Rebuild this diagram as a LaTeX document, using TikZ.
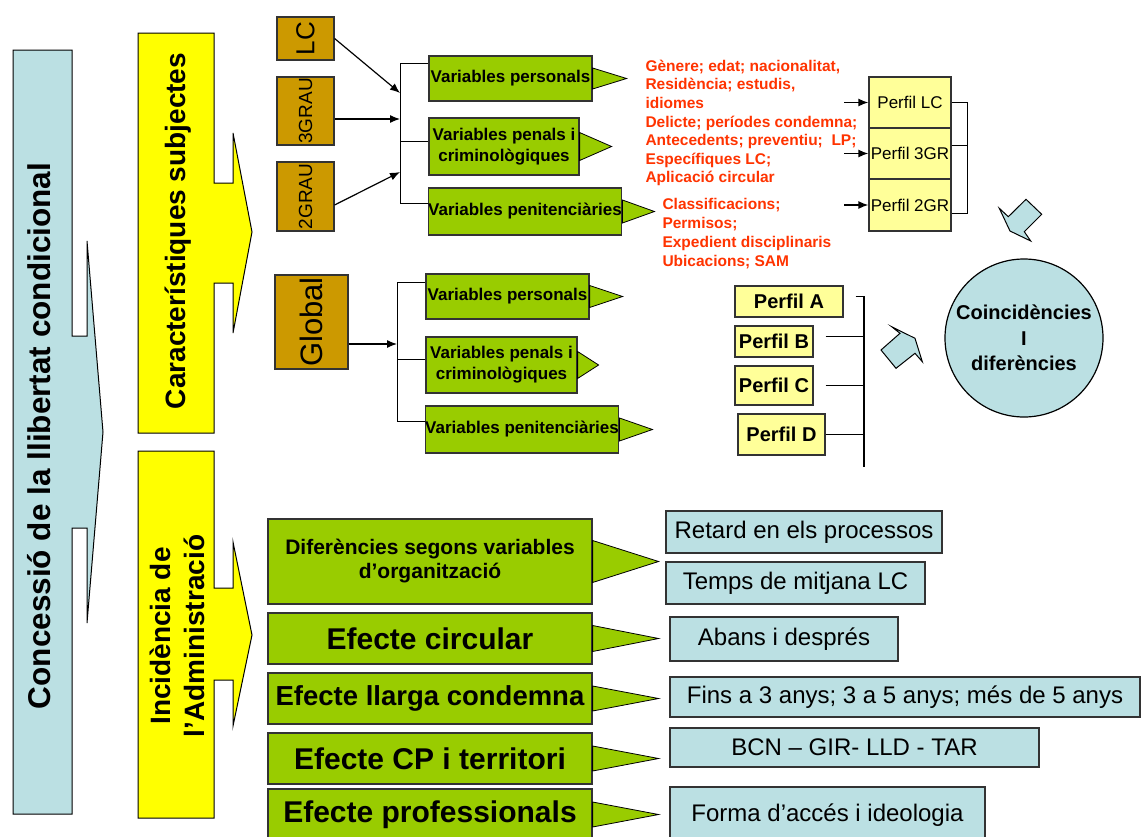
\documentclass[tikz,border=0pt]{standalone}
\usepackage{fontspec}
\setmainfont{Liberation Sans}
\usepackage{graphicx}
\usetikzlibrary{arrows.meta}
\definecolor{cblue}{RGB}{187,224,227}
\definecolor{cyel}{RGB}{255,255,0}
\definecolor{cbrown}{RGB}{204,153,0}
\definecolor{cgreen}{RGB}{153,204,0}
\definecolor{cpale}{RGB}{255,255,153}
\definecolor{cred}{RGB}{255,51,0}
\tikzset{>={Latex[length=10pt,width=8pt]}}

\begin{document}
\begin{tikzpicture}[
    x = 1pt, y = -1pt,
    line width = 1pt,
    bx/.style = {draw = black!80, line width = 1.2pt, inner sep = 0pt, align = center},
    gbox/.style = {bx, fill = cgreen, font = \bfseries\fontsize{17}{21}\selectfont},
    bbox/.style = {bx, fill = cbrown},
    lbox/.style = {bx, fill = cblue, font = \fontsize{24}{28}\selectfont},
    pbox/.style = {bx, fill = cpale},
    tri/.style = {draw = black, line width = 0.8pt, fill = cgreen},
    call/.style = {draw = black, line width = 1pt},
    redtxt/.style = {text = cred, font = \bfseries\fontsize{15.5}{18.6}\selectfont, align = left, inner sep = 0pt, anchor = north west},
    vtxt/.style = {rotate = 90, inner sep = 0pt, align = center, font = \bfseries\fontsize{28}{34}\selectfont},
]
\useasboundingbox (0,0) rectangle (1141,836);

% big callouts on the left
\draw[call, fill = cblue] (13,50) -- (72,50) -- (72,336) -- (87,336) -- (87,241) -- (103,432) -- (87,623) -- (87,528) -- (72,528) -- (72,814) -- (13,814) -- cycle;
\node[vtxt, font = \bfseries\fontsize{31.5}{36}\selectfont] (tcon) at (39,436) {Concessió de la llibertat condicional};

\draw[call, fill = cyel] (138,33) -- (214,33) -- (214,183) -- (233,183) -- (233,133) -- (252,232) -- (233,333) -- (233,283) -- (214,283) -- (214,433) -- (138,433) -- cycle;
\node[vtxt] (tcar) at (178,231) {Característiques subjectes};

\draw[call, fill = cyel] (138,451) -- (214,451) -- (214,588) -- (233,588) -- (233,542) -- (252,635) -- (233,726) -- (233,680) -- (214,680) -- (214,818) -- (138,818) -- cycle;
\node[vtxt] (tinc) at (177,636) {Incidència de\\l’Administració};

% groups of subjects
\node[bbox, minimum width = 57, minimum height = 43, font = \fontsize{26}{26}\selectfont] (lc) at (305.5,38.5) {\rotatebox{90}{LC}};
\node[bbox, minimum width = 57, minimum height = 68, font = \fontsize{19}{19}\selectfont] (g3) at (305.5,111) {\rotatebox{90}{3GRAU}};
\node[bbox, minimum width = 57, minimum height = 69, font = \fontsize{19}{19}\selectfont] (g2) at (305.5,196.5) {\rotatebox{90}{2GRAU}};
\node[bbox, minimum width = 73, minimum height = 94, font = \fontsize{31}{31}\selectfont] (gl) at (311.5,322) {\rotatebox{90}{Global}};

\node[gbox, minimum width = 163, minimum height = 45] (vp1) at (510.5,78.5) {Variables personals};
\node[gbox, minimum width = 150, minimum height = 57] (vpc1) at (504,146.5) {Variables penals i\\criminològiques};
\node[gbox, minimum width = 192, minimum height = 47] (vpt1) at (525,211.5) {Variables penitenciàries};
\node[gbox, minimum width = 163, minimum height = 45] (vp2) at (507.5,296.5) {Variables personals};
\node[gbox, minimum width = 151, minimum height = 56] (vpc2) at (501.5,365) {Variables penals i\\criminològiques};
\node[gbox, minimum width = 192, minimum height = 47] (vpt2) at (522,429.5) {Variables penitenciàries};

% brackets and arrows
\coordinate (k1) at (400,63);
\coordinate (k2) at (400,141);
\coordinate (k3) at (400,203);
\draw (k1) -- (k3);
\foreach \k/\b in {k1/vp1, k2/vpc1, k3/vpt1}
    \draw (\k) -- (\k -| \b.west);
\coordinate (a1) at (400,93);
\coordinate (a2) at (400,119);
\coordinate (a3) at (400,172);
\draw[->, line width = 1.2pt] (lc.east) -- (a1);
\draw[->, line width = 1.2pt] ([yshift = -8pt]g3.east) -- (a2);
\draw[->, line width = 1.2pt] ([yshift = -8.5pt]g2.east) -- (a3);

\coordinate (m1) at (397,282);
\coordinate (m2) at (397,359);
\coordinate (m3) at (397,421);
\draw (m1) -- (m3);
\foreach \k/\b in {m1/vp2, m2/vpc2, m3/vpt2}
    \draw (\k) -- (\k -| \b.west);
\coordinate (a4) at (397,344);
\draw[->, line width = 1.2pt] ([yshift = -22pt]gl.east) -- (a4);

% small arrow heads
\foreach \b/\h/\l in {vp1/10.5/34, vpc1/14/32, vpt1/11.5/32, vp2/11/33, vpc2/13.5/21, vpt2/11.5/33}
    \draw[tri] ([yshift = \h pt]\b.east) -- ++(\l,\h) -- ++(-\l,\h) -- cycle;

% variables
\node[redtxt] (rv1) at (645,59.5) {Gènere; edat; nacionalitat,\\Residència; estudis,\\idiomes\\Delicte; períodes condemna;\\Antecedents; preventiu;\ \ LP;\\Específiques LC;\\Aplicació circular};
\node[redtxt, font = \bfseries\fontsize{15.5}{19}\selectfont] (rv2) at (662,197.5) {Classificacions;\\Permisos;\\Expedient disciplinaris\\Ubicacions; SAM};

% profiles
\node[pbox, minimum width = 82, minimum height = 51, font = \fontsize{17}{20}\selectfont] (plc) at (910,102.5) {Perfil LC};
\node[pbox, minimum width = 82, minimum height = 51, font = \fontsize{17}{20}\selectfont] (p3g) at (910,153.5) {Perfil 3GR};
\node[pbox, minimum width = 82, minimum height = 52, font = \fontsize{17}{20}\selectfont] (p2g) at (910,205) {Perfil 2GR};
\coordinate (c1) at (844,102.5);
\coordinate (c2) at (844,153.5);
\coordinate (c3) at (844,205);
\foreach \c/\p in {c1/plc, c2/p3g, c3/p2g}
    \draw[->, line width = 1.5pt] (\c) -- (\p.west);
\draw (plc.east) -- ++(16,0) |- ([yshift = -8pt]p2g.east);
\draw ([yshift = 8.5pt]p3g.east) -- ++(16,0);

\node[pbox, minimum width = 108, minimum height = 31, font = \bfseries\fontsize{20}{24}\selectfont] (pa) at (789,301.5) {Perfil A};
\node[pbox, minimum width = 78, minimum height = 31, font = \bfseries\fontsize{20}{24}\selectfont] (pb) at (774,341.5) {Perfil B};
\node[pbox, minimum width = 78, minimum height = 39, font = \bfseries\fontsize{20}{24}\selectfont] (pc) at (774,385.5) {Perfil C};
\node[pbox, minimum width = 87, minimum height = 41, font = \bfseries\fontsize{20}{24}\selectfont] (pd) at (781.5,434.5) {Perfil D};
\coordinate (q1) at (864,296);
\coordinate (q2) at (864,467);
\draw[line width = 1.2pt] (q1) -- (q2);
\draw ([xshift = 12pt, yshift = 5.5pt]pa.east) -- (q1);
\draw ([xshift = 12pt, yshift = 5.5pt]pb.east) -- ++(39,0);
\draw ([xshift = 12pt]pc.east) -- ++(39,0);
\draw (pd.east) -- ++(39,0);

\node[circle, draw = black, line width = 1.2pt, fill = cblue, minimum size = 158, inner sep = 0pt, align = center, font = \bfseries\fontsize{20}{25.5}\selectfont] (co) at (1024,338) {Coincidències\\I\\diferències};

% block arrows towards the circle
\draw[call, fill = cblue] (999.3,208.3) -- (1010,231) -- (1030.7,241) -- (1024.3,231.7) -- (1041.7,214.3) -- (1026,199.3) -- (1008.3,216.7) -- cycle;
\draw[call, fill = cblue] (881,350) -- (900,333.3) -- (891.7,326.7) -- (915,338.3) -- (922.3,361.7) -- (915,353.3) -- (896,368.3) -- cycle;

% administration
\node[gbox, minimum width = 324, minimum height = 85, font = \bfseries\fontsize{21}{24}\selectfont] (dif) at (430,561.5) {Diferències segons variables\\d’organització};
\node[gbox, minimum width = 324, minimum height = 51, font = \bfseries\fontsize{30}{34}\selectfont] (ecir) at (430,638.5) {Efecte circular};
\node[gbox, minimum width = 324, minimum height = 51, font = \bfseries\fontsize{27.5}{32}\selectfont] (ell) at (430,698.5) {Efecte llarga condemna};
\node[gbox, minimum width = 324, minimum height = 51, font = \bfseries\fontsize{30}{34}\selectfont] (ecp) at (430,758.5) {Efecte CP i territori};
\node[gbox, minimum width = 324, minimum height = 51, font = \bfseries\fontsize{30}{34}\selectfont] (epr) at (430,814.5) {Efecte professionals};
\foreach \b/\h in {dif/21, ecir/13, ell/12.5, ecp/12.5, epr/12.5}
    \draw[tri] ([yshift = \h pt]\b.east) -- ++(66,\h) -- ++(-66,\h) -- cycle;

\node[lbox, minimum width = 276, minimum height = 42] (ret) at (804,532) {Retard en els processos};
\node[lbox, minimum width = 259, minimum height = 42] (tem) at (795.5,583) {Temps de mitjana LC};
\node[lbox, minimum width = 228, minimum height = 44] (aba) at (784,639) {Abans i després};
\node[lbox, minimum width = 470, minimum height = 40] (fin) at (905,697) {Fins a 3 anys; 3 a 5 anys; més de 5 anys};
\node[lbox, minimum width = 369, minimum height = 39] (bcn) at (854.5,747.5) {BCN – GIR- LLD - TAR};
\node[lbox, minimum width = 315, minimum height = 56] (for) at (827.5,815) {Forma d’accés i ideologia};

\end{tikzpicture}
\end{document}
